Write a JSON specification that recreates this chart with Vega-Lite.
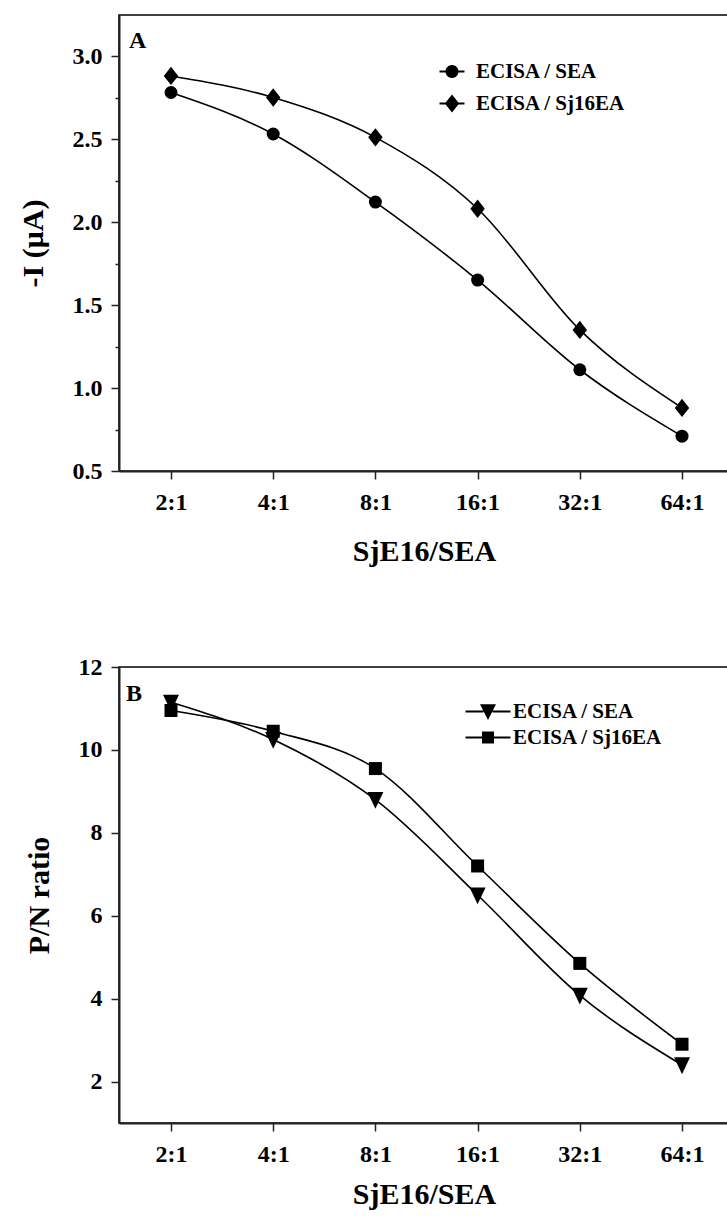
{
  "$schema": "https://vega.github.io/schema/vega-lite/v6.json",
  "autosize": {"type": "pad"},
  "padding": {"left": 17, "top": 14, "right": 0, "bottom": 0},
  "background": "white",
  "spacing": 87,
  "config": {
    "font": "Liberation Serif",
    "view": {"stroke": "black", "strokeWidth": 1.5},
    "axis": {
      "labelFont": "Liberation Serif", "labelFontSize": 24, "labelFontWeight": "bold", "labelColor": "black",
      "titleFont": "Liberation Serif", "titleFontSize": 30, "titleFontWeight": "bold", "titleColor": "black",
      "domainColor": "#222", "domainWidth": 2, "tickColor": "#222", "tickWidth": 1.5, "tickSize": 8, "grid": false
    }
  },
  "datasets": {
    "a": [
      {"ratio": 2, "series": "ECISA / SEA", "value": 2.78},
      {"ratio": 4, "series": "ECISA / SEA", "value": 2.53},
      {"ratio": 8, "series": "ECISA / SEA", "value": 2.12},
      {"ratio": 16, "series": "ECISA / SEA", "value": 1.65},
      {"ratio": 32, "series": "ECISA / SEA", "value": 1.11},
      {"ratio": 64, "series": "ECISA / SEA", "value": 0.71},
      {"ratio": 2, "series": "ECISA / Sj16EA", "value": 2.88},
      {"ratio": 4, "series": "ECISA / Sj16EA", "value": 2.75},
      {"ratio": 8, "series": "ECISA / Sj16EA", "value": 2.51},
      {"ratio": 16, "series": "ECISA / Sj16EA", "value": 2.08},
      {"ratio": 32, "series": "ECISA / Sj16EA", "value": 1.35},
      {"ratio": 64, "series": "ECISA / Sj16EA", "value": 0.88}
    ],
    "b": [
      {"ratio": 2, "series": "ECISA / SEA", "value": 11.15},
      {"ratio": 4, "series": "ECISA / SEA", "value": 10.25},
      {"ratio": 8, "series": "ECISA / SEA", "value": 8.8},
      {"ratio": 16, "series": "ECISA / SEA", "value": 6.5},
      {"ratio": 32, "series": "ECISA / SEA", "value": 4.08},
      {"ratio": 64, "series": "ECISA / SEA", "value": 2.4},
      {"ratio": 2, "series": "ECISA / Sj16EA", "value": 10.95},
      {"ratio": 4, "series": "ECISA / Sj16EA", "value": 10.45},
      {"ratio": 8, "series": "ECISA / Sj16EA", "value": 9.55},
      {"ratio": 16, "series": "ECISA / Sj16EA", "value": 7.2},
      {"ratio": 32, "series": "ECISA / Sj16EA", "value": 4.85},
      {"ratio": 64, "series": "ECISA / Sj16EA", "value": 2.9}
    ]
  },
  "resolve": {
    "scale": {"x": "independent", "y": "independent", "shape": "independent"},
    "legend": {"shape": "independent"}
  },
  "vconcat": [
    {
      "width": 610,
      "height": 456,
      "title": {"text": "A", "anchor": "start", "frame": "group", "offset": 0, "dx": 10, "dy": 57, "baseline": "alphabetic", "fontSize": 24, "font": "Liberation Serif", "fontWeight": "bold", "color": "black"},
      "data": {"name": "a"},
      "resolve": {"axis": {"y": "independent"}},
      "layer": [
        {
          "mark": {"type": "line", "interpolate": "monotone", "color": "black", "strokeWidth": 1.6},
          "encoding": {
            "x": {"field": "ratio", "type": "quantitative", "scale": {"type": "log", "base": 2, "domain": [1.4056, 88.02], "nice": false}, "axis": {"values": [2, 4, 8, 16, 32, 64], "labelExpr": "datum.value + ':1'", "labelPadding": 11, "title": "SjE16/SEA", "titlePadding": 22, "labelFlush": false}},
            "y": {"field": "value", "type": "quantitative", "scale": {"domain": [0.5, 3.247], "nice": false, "zero": false}, "axis": {"orient": "left", "values": [0.5, 1.0, 1.5, 2.0, 2.5, 3.0], "format": ".1f", "labelPadding": 9, "title": "-I (μA)", "titlePadding": 24}},
            "detail": {"field": "series", "type": "nominal"}
          }
        },
        {
          "transform": [{"filter": "datum.series === 'ECISA / SEA'"}],
          "mark": {"type": "point", "filled": true, "opacity": 1, "color": "black", "size": 169, "shape": "circle"},
          "encoding": {
            "x": {"field": "ratio", "type": "quantitative"},
            "y": {"field": "value", "type": "quantitative", "axis": {"orient": "left", "values": [0.75, 1.25, 1.75, 2.25, 2.75], "labels": false, "title": null, "domain": false, "tickSize": 4}}
          }
        },
        {
          "transform": [{"filter": "datum.series === 'ECISA / Sj16EA'"}],
          "mark": {"type": "point", "filled": true, "opacity": 1, "color": "black", "size": 169, "shape": "M0,-1.415L1.11,0L0,1.415L-1.11,0Z"},
          "encoding": {
            "x": {"field": "ratio", "type": "quantitative"},
            "y": {"field": "value", "type": "quantitative", "axis": null}
          }
        },
        {
          "mark": {"type": "point", "filled": true, "opacity": 0, "color": "black", "size": 169},
          "encoding": {
            "x": {"field": "ratio", "type": "quantitative"},
            "y": {"field": "value", "type": "quantitative", "axis": null},
            "shape": {"field": "series", "type": "nominal",
              "scale": {"domain": ["ECISA / SEA", "ECISA / Sj16EA"], "range": ["M-1.92,-0.14H-0.9V0.14H-1.92ZM0.9,-0.14H1.92V0.14H0.9ZM1,0A1,1,0,1,1,-1,0A1,1,0,1,1,1,0Z", "M-1.92,-0.14H-1V0.14H-1.92ZM1,-0.14H1.92V0.14H1ZM0,-1.4L1.1,0L0,1.4L-1.1,0Z"]},
              "legend": {"title": null, "orient": "none", "legendX": 320, "legendY": 46, "padding": 0,
                "labelFont": "Liberation Serif", "labelFontSize": 21, "labelFontWeight": "bold", "labelColor": "black",
                "symbolSize": 169, "symbolOffset": 2.5, "labelOffset": 13.5, "rowPadding": 10, "symbolOpacity": 1,
                "symbolStrokeWidth": 0, "symbolFillColor": "black"}}
          }
        }
      ]
    },
    {
      "width": 610,
      "height": 456,
      "title": {"text": "B", "anchor": "start", "frame": "group", "offset": 0, "dx": 7, "dy": 70, "baseline": "alphabetic", "fontSize": 24, "font": "Liberation Serif", "fontWeight": "bold", "color": "black"},
      "data": {"name": "b"},
      "layer": [
        {
          "mark": {"type": "line", "interpolate": "monotone", "color": "black", "strokeWidth": 1.6},
          "encoding": {
            "x": {"field": "ratio", "type": "quantitative", "scale": {"type": "log", "base": 2, "domain": [1.4056, 88.02], "nice": false}, "axis": {"values": [2, 4, 8, 16, 32, 64], "labelExpr": "datum.value + ':1'", "labelPadding": 11, "title": "SjE16/SEA", "titlePadding": 13, "labelFlush": false}},
            "y": {"field": "value", "type": "quantitative", "scale": {"domain": [1, 12], "nice": false, "zero": false}, "axis": {"values": [2, 4, 6, 8, 10, 12], "format": "d", "labelPadding": 9, "title": "P/N ratio", "titlePadding": 24}},
            "detail": {"field": "series", "type": "nominal"}
          }
        },
        {
          "transform": [{"filter": "datum.series === 'ECISA / SEA'"}],
          "mark": {"type": "point", "filled": true, "opacity": 1, "color": "black", "size": 169, "shape": "M-1.23,-1.17L1.23,-1.17L0,1.415Z"},
          "encoding": {
            "x": {"field": "ratio", "type": "quantitative"},
            "y": {"field": "value", "type": "quantitative"}
          }
        },
        {
          "transform": [{"filter": "datum.series === 'ECISA / Sj16EA'"}],
          "mark": {"type": "point", "filled": true, "opacity": 1, "color": "black", "size": 169, "shape": "square"},
          "encoding": {
            "x": {"field": "ratio", "type": "quantitative"},
            "y": {"field": "value", "type": "quantitative"}
          }
        },
        {
          "mark": {"type": "point", "filled": true, "opacity": 0, "color": "black", "size": 169},
          "encoding": {
            "x": {"field": "ratio", "type": "quantitative"},
            "y": {"field": "value", "type": "quantitative"},
            "shape": {"field": "series", "type": "nominal",
              "scale": {"domain": ["ECISA / SEA", "ECISA / Sj16EA"], "range": ["M-3.46,-0.14H-0.7V0.14H-3.46ZM0.7,-0.14H3.46V0.14H0.7ZM-1.23,-1.1L1.23,-1.1L0,1.3Z", "M-3.46,-0.14H-0.92V0.14H-3.46ZM0.92,-0.14H3.46V0.14H0.92ZM-0.92,-0.92H0.92V0.92H-0.92Z"]},
              "legend": {"title": null, "orient": "none", "legendX": 355, "legendY": 34, "padding": 0,
                "labelFont": "Liberation Serif", "labelFontSize": 21, "labelFontWeight": "bold", "labelColor": "black",
                "symbolSize": 169, "symbolOffset": 3.5, "labelOffset": 14.5, "rowPadding": 4, "symbolOpacity": 1,
                "symbolStrokeWidth": 0, "symbolFillColor": "black"}}
          }
        }
      ]
    }
  ]
}
